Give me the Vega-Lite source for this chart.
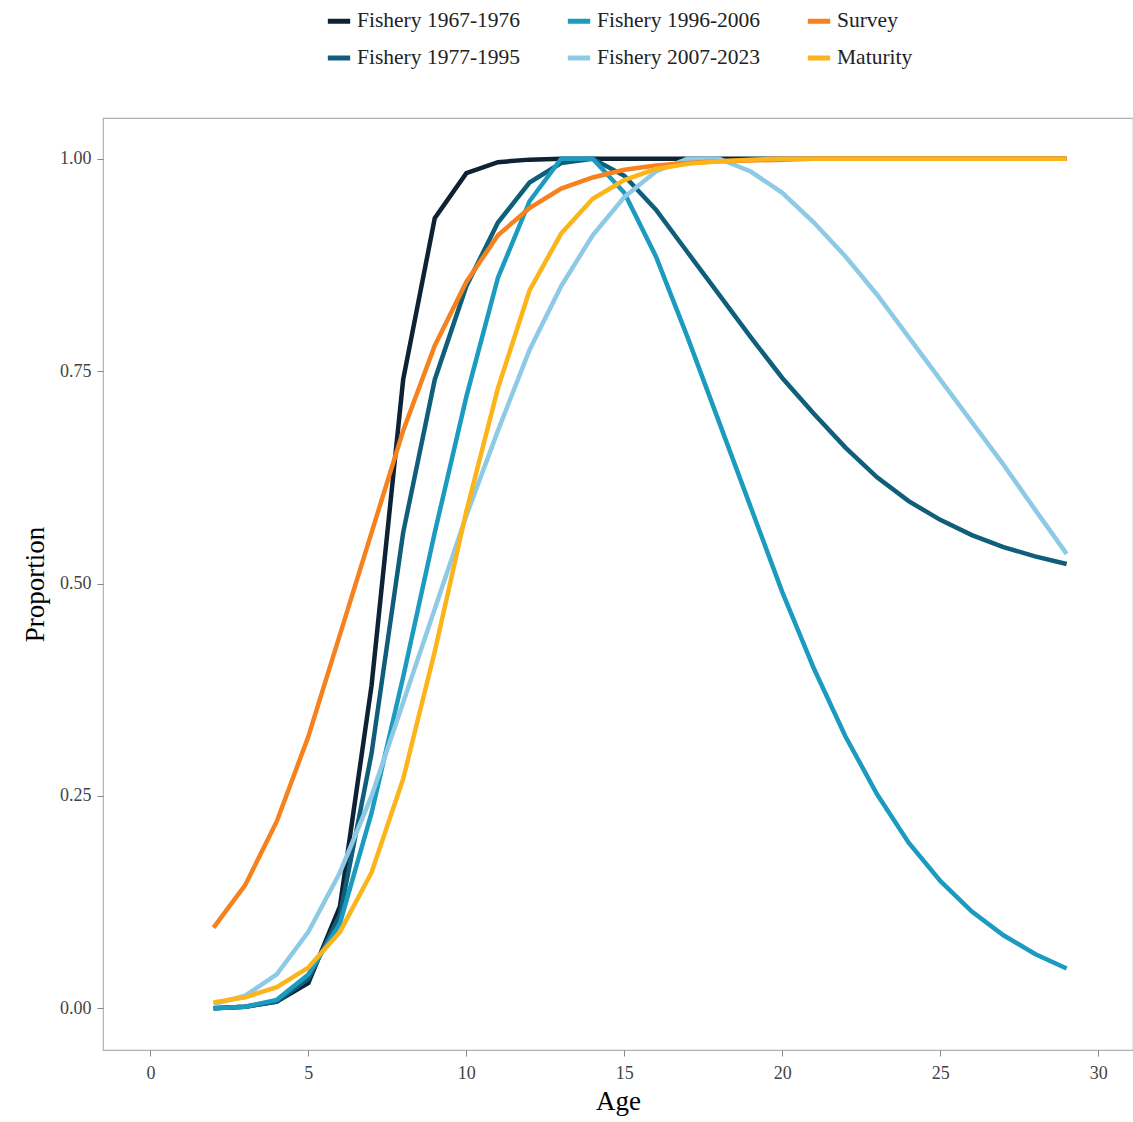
{
"$schema":"https://vega.github.io/schema/vega-lite/v6.json",
"width":1030,"height":932,
"autosize":{"type":"none"},
"padding":{"left":103,"top":118,"right":0,"bottom":72},
"config":{"font":"Liberation Serif","view":{"stroke":"#b0b0b0","strokeWidth":1.2},
"axis":{"grid":false,"domain":false,"tickColor":"#888","tickSize":6,"labelFont":"Liberation Serif","labelFontSize":18,"labelColor":"#444","titleFont":"Liberation Serif","titleFontSize":27,"titleFontWeight":"normal","titleColor":"#000"}},
"data":{"values":[
{"Age":2,"a":0,"b":0,"c":0,"d":0.005,"e":0.095,"f":0.007},
{"Age":3,"a":0.002,"b":0.002,"c":0.002,"d":0.015,"e":0.145,"f":0.013},
{"Age":4,"a":0.008,"b":0.008,"c":0.01,"d":0.04,"e":0.22,"f":0.025},
{"Age":5,"a":0.03,"b":0.035,"c":0.04,"d":0.09,"e":0.32,"f":0.048},
{"Age":6,"a":0.12,"b":0.11,"c":0.1,"d":0.16,"e":0.44,"f":0.09},
{"Age":7,"a":0.38,"b":0.3,"c":0.23,"d":0.25,"e":0.56,"f":0.16},
{"Age":8,"a":0.74,"b":0.56,"c":0.39,"d":0.36,"e":0.68,"f":0.27},
{"Age":9,"a":0.93,"b":0.74,"c":0.56,"d":0.47,"e":0.78,"f":0.42},
{"Age":10,"a":0.983,"b":0.85,"c":0.72,"d":0.58,"e":0.855,"f":0.585},
{"Age":11,"a":0.996,"b":0.925,"c":0.86,"d":0.68,"e":0.91,"f":0.73},
{"Age":12,"a":0.999,"b":0.972,"c":0.95,"d":0.775,"e":0.942,"f":0.845},
{"Age":13,"a":1,"b":0.995,"c":1,"d":0.85,"e":0.965,"f":0.912},
{"Age":14,"a":1,"b":1,"c":1,"d":0.91,"e":0.978,"f":0.953},
{"Age":15,"a":1,"b":0.98,"c":0.96,"d":0.955,"e":0.987,"f":0.975},
{"Age":16,"a":1,"b":0.94,"c":0.885,"d":0.985,"e":0.992,"f":0.988},
{"Age":17,"a":1,"b":0.89,"c":0.79,"d":1,"e":0.995,"f":0.994},
{"Age":18,"a":1,"b":0.84,"c":0.69,"d":1,"e":0.997,"f":0.997},
{"Age":19,"a":1,"b":0.79,"c":0.59,"d":0.985,"e":0.998,"f":0.999},
{"Age":20,"a":1,"b":0.742,"c":0.49,"d":0.96,"e":0.999,"f":1},
{"Age":21,"a":1,"b":0.70,"c":0.40,"d":0.925,"e":1,"f":1},
{"Age":22,"a":1,"b":0.66,"c":0.32,"d":0.885,"e":1,"f":1},
{"Age":23,"a":1,"b":0.625,"c":0.252,"d":0.84,"e":1,"f":1},
{"Age":24,"a":1,"b":0.597,"c":0.195,"d":0.79,"e":1,"f":1},
{"Age":25,"a":1,"b":0.575,"c":0.15,"d":0.74,"e":1,"f":1},
{"Age":26,"a":1,"b":0.557,"c":0.114,"d":0.69,"e":1,"f":1},
{"Age":27,"a":1,"b":0.543,"c":0.086,"d":0.64,"e":1,"f":1},
{"Age":28,"a":1,"b":0.532,"c":0.064,"d":0.587,"e":1,"f":1},
{"Age":29,"a":1,"b":0.523,"c":0.047,"d":0.535,"e":1,"f":1}
]},
"transform":[
{"fold":["a","b","c","d","e","f"],"as":["k","Proportion"]},
{"lookup":"k","from":{"data":{"values":[
{"k":"a","Series":"Fishery 1967-1976"},{"k":"b","Series":"Fishery 1977-1995"},{"k":"c","Series":"Fishery 1996-2006"},
{"k":"d","Series":"Fishery 2007-2023"},{"k":"e","Series":"Survey"},{"k":"f","Series":"Maturity"}]},"key":"k","fields":["Series"]}}
],
"mark":{"type":"line","strokeWidth":4.5},
"encoding":{
"x":{"field":"Age","type":"quantitative","scale":{"domain":[-1.5,31.1],"nice":false},"axis":{"values":[0,5,10,15,20,25,30],"labelPadding":8,"titlePadding":6}},
"y":{"field":"Proportion","type":"quantitative","scale":{"domain":[-0.049,1.048],"nice":false},"axis":{"values":[0,0.25,0.5,0.75,1],"format":".2f","labelPadding":6,"titlePadding":10}},
"color":{"field":"Series","type":"nominal",
"scale":{"domain":["Fishery 1967-1976","Fishery 1996-2006","Survey","Fishery 1977-1995","Fishery 2007-2023","Maturity"],
"range":["#0d2235","#1a9bbf","#f5821f","#0f5f7a","#8ecae6","#fbb41a"]},
"legend":{"title":null,"orient":"none","legendX":222,"legendY":-111,"columns":3,"direction":"horizontal","symbolType":"stroke","symbolStrokeWidth":5,"symbolSize":500,"labelFontSize":21.5,"labelColor":"#222","rowPadding":12,"columnPadding":36,"labelLimit":300}}
}
}
